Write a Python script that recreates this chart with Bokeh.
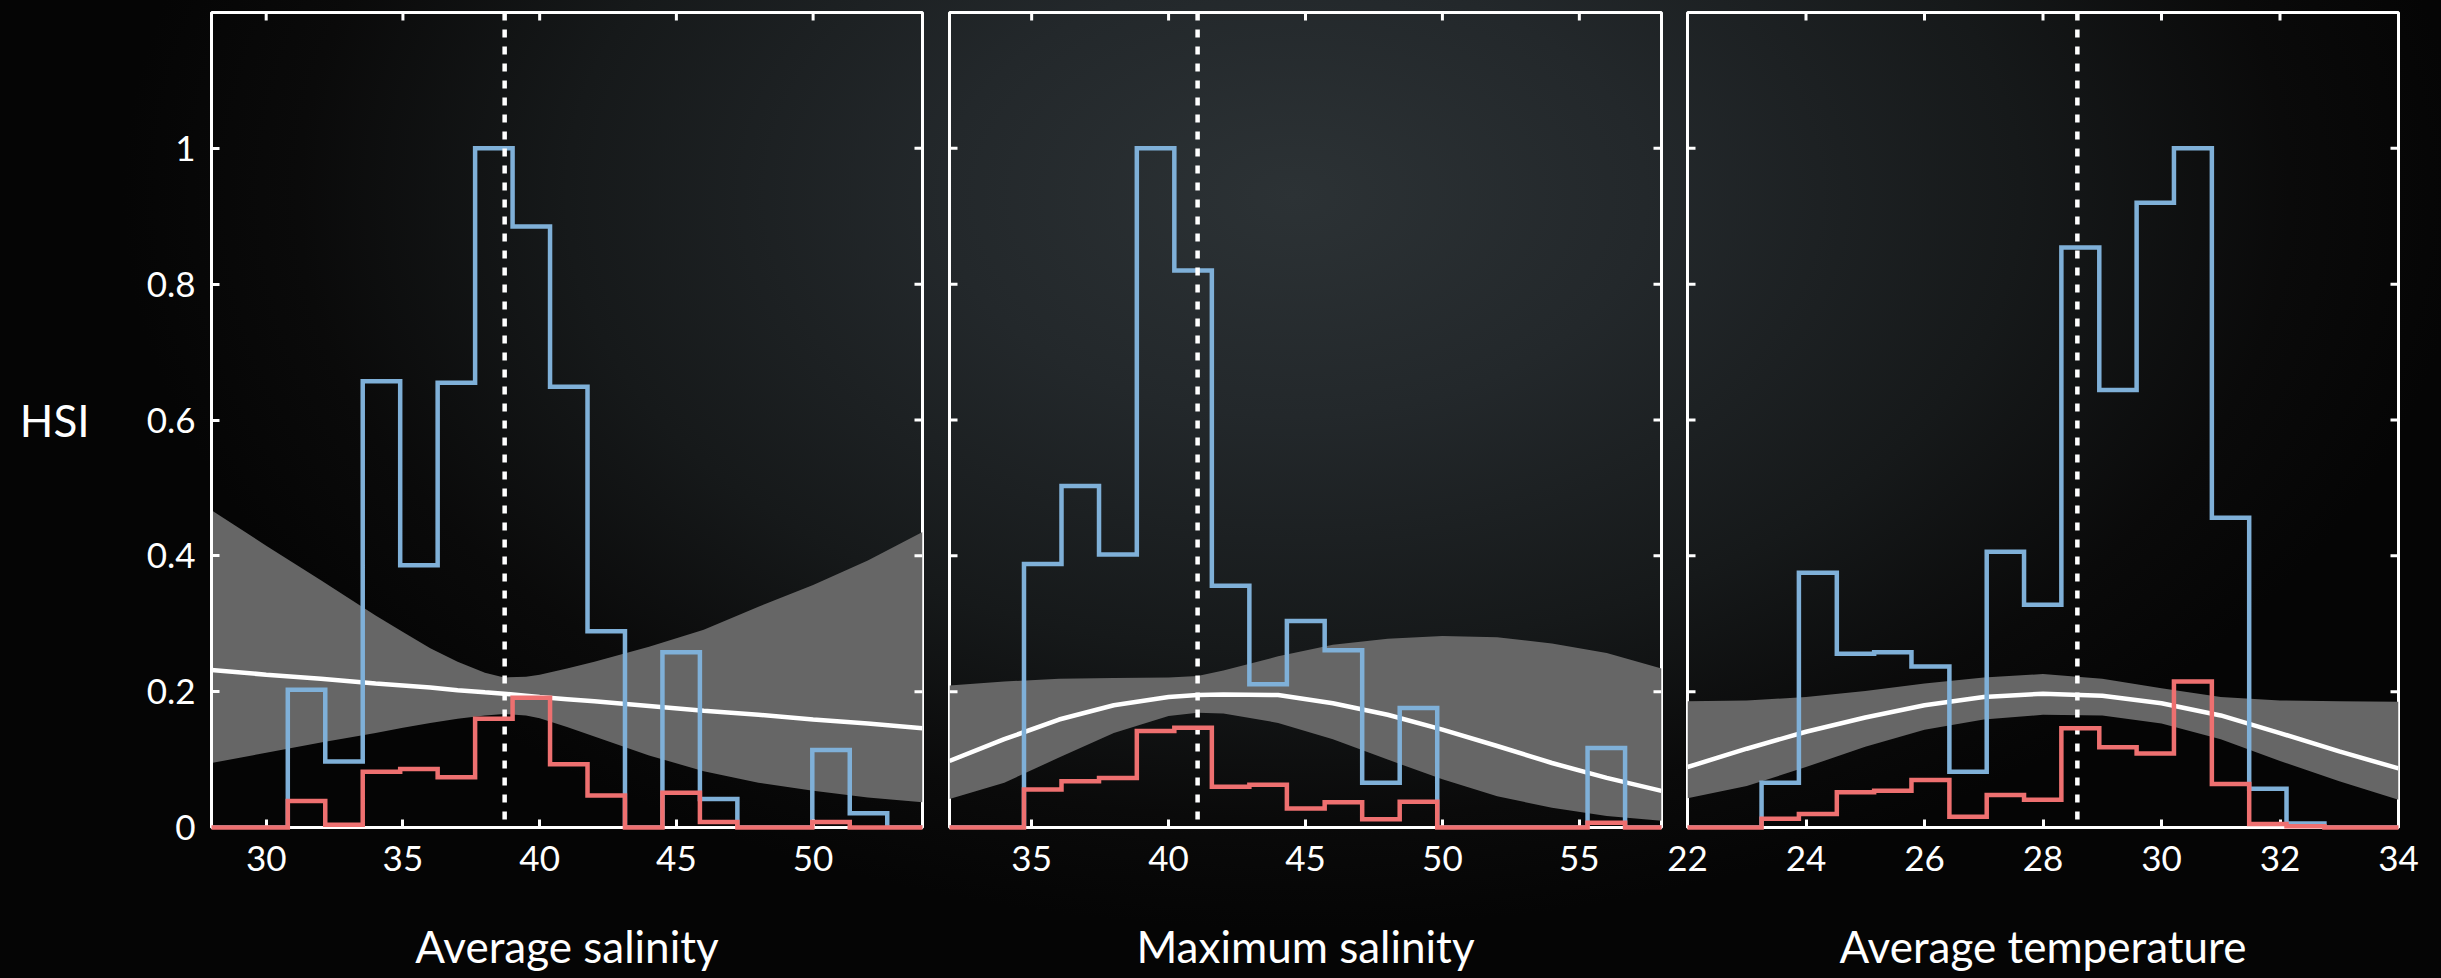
import math
from bokeh.plotting import figure
from bokeh.layouts import row
from bokeh.models import Range1d, FixedTicker, Span, GlobalInlineStyleSheet
from bokeh.embed import file_html
from bokeh.resources import INLINE

# ---------------- data ----------------
y_range = [0, 1.2]
y_ticks = [0, 0.2, 0.4, 0.6, 0.8, 1]
y_tick_labels = ["0", "0.2", "0.4", "0.6", "0.8", "1"]

# Panel 1: Average salinity
p1_title = "Average salinity"
p1_xrange = [28, 54]
p1_xticks = [30, 35, 40, 45, 50]
p1_edges = [30.79, 32.16, 33.53, 34.90, 36.27, 37.64, 39.01, 40.38, 41.75,
            43.12, 44.49, 45.86, 47.23, 48.60, 49.97, 51.34, 52.71]
p1_blue = [0.203, 0.097, 0.657, 0.386, 0.655, 1.0, 0.885, 0.649, 0.289,
           0.0, 0.258, 0.042, 0.0, 0.0, 0.114, 0.021]
p1_red = [0.039, 0.004, 0.082, 0.086, 0.074, 0.160, 0.191, 0.093, 0.047,
          0.0, 0.051, 0.008, 0.0, 0.0, 0.008, 0.0]
p1_mark = 38.72
p1_cx = [28, 30, 32, 34, 35, 36, 37, 38, 38.7, 39.5, 40, 41, 42, 44, 46,
         48, 50, 52, 54]
p1_upper = [0.467, 0.415, 0.364, 0.312, 0.288, 0.264, 0.244, 0.228, 0.221,
            0.222, 0.225, 0.234, 0.244, 0.266, 0.291, 0.325, 0.357, 0.393,
            0.435]
p1_lower = [0.095, 0.110, 0.125, 0.139, 0.147, 0.154, 0.160, 0.165, 0.167,
            0.165, 0.161, 0.148, 0.134, 0.106, 0.083, 0.066, 0.054, 0.044,
            0.037]
p1_fit = [0.232, 0.225, 0.219, 0.212, 0.209, 0.206, 0.202, 0.199, 0.197,
          0.194, 0.192, 0.189, 0.186, 0.179, 0.172, 0.166, 0.159, 0.153,
          0.146]

# Panel 2: Maximum salinity
p2_title = "Maximum salinity"
p2_xrange = [32, 58]
p2_xticks = [35, 40, 45, 50, 55]
p2_edges = [34.72, 36.09, 37.46, 38.84, 40.21, 41.58, 42.95, 44.32, 45.70,
            47.07, 48.44, 49.81, 51.18, 52.56, 53.93, 55.30, 56.67]
p2_blue = [0.388, 0.503, 0.402, 1.0, 0.820, 0.356, 0.211, 0.304, 0.261,
           0.066, 0.176, 0.0, 0.0, 0.0, 0.0, 0.117]
p2_red = [0.056, 0.068, 0.073, 0.142, 0.147, 0.060, 0.063, 0.028, 0.037,
          0.012, 0.038, 0.0, 0.0, 0.0, 0.0, 0.007]
p2_mark = 41.06
p2_cx = [32, 34, 36, 38, 40, 41.06, 42, 44, 46, 48, 50, 52, 54, 56, 58]
p2_upper = [0.209, 0.215, 0.219, 0.220, 0.221, 0.223, 0.231, 0.252, 0.269,
            0.278, 0.282, 0.280, 0.271, 0.257, 0.234]
p2_lower = [0.042, 0.066, 0.103, 0.139, 0.164, 0.169, 0.168, 0.154, 0.130,
            0.100, 0.071, 0.046, 0.029, 0.017, 0.010]
p2_fit = [0.098, 0.130, 0.159, 0.180, 0.192, 0.195, 0.196, 0.195, 0.183,
          0.166, 0.144, 0.120, 0.095, 0.073, 0.054]

# Panel 3: Average temperature
p3_title = "Average temperature"
p3_xrange = [22, 34]
p3_xticks = [22, 24, 26, 28, 30, 32, 34]
p3_edges = [23.25, 23.88, 24.52, 25.15, 25.78, 26.42, 27.05, 27.68, 28.31,
            28.95, 29.58, 30.21, 30.85, 31.48, 32.11, 32.75]
p3_blue = [0.066, 0.375, 0.256, 0.258, 0.237, 0.082, 0.406, 0.328, 0.854,
           0.644, 0.920, 1.0, 0.456, 0.057, 0.006]
p3_red = [0.013, 0.020, 0.052, 0.054, 0.070, 0.016, 0.048, 0.041, 0.146,
          0.118, 0.109, 0.215, 0.064, 0.005, 0.002]
p3_mark = 28.58
p3_cx = [22, 23, 24, 25, 26, 27, 28, 29, 30, 31, 32, 33, 34]
p3_upper = [0.186, 0.187, 0.192, 0.201, 0.212, 0.221, 0.226, 0.219, 0.205,
            0.192, 0.187, 0.186, 0.185]
p3_lower = [0.043, 0.061, 0.089, 0.119, 0.144, 0.159, 0.166, 0.165, 0.153,
            0.130, 0.098, 0.068, 0.041]
p3_fit = [0.089, 0.116, 0.141, 0.162, 0.180, 0.192, 0.197, 0.194, 0.183,
          0.165, 0.139, 0.112, 0.087]

# ---------------- style ----------------
FONT = "Lato"
BLUE = "#7fb0d8"
RED = "#ee7070"
BAND = "#666666"
TICK_FS = "35px"
TITLE_FS = "44px"
TICK_LEN = 8


def step_path(edges, vals, xr):
    xs = [xr[0], edges[0]]
    ys = [0.0, 0.0]
    for i, v in enumerate(vals):
        xs += [edges[i], edges[i + 1]]
        ys += [v, v]
    xs += [edges[-1], edges[-1], xr[1]]
    ys += [vals[-1], 0.0, 0.0]
    return xs, ys


def inner_ticks(p, xr, xticks, left):
    # top ticks (pointing down) and right ticks (pointing left)
    p.ray(x=xticks, y=[y_range[1]] * len(xticks), length=TICK_LEN,
          length_units="screen", angle=-math.pi / 2, line_color="white",
          line_width=3)
    p.ray(x=[xr[1]] * len(y_ticks), y=y_ticks, length=TICK_LEN,
          length_units="screen", angle=math.pi, line_color="white",
          line_width=3)
    if left:
        p.ray(x=[xr[0]] * len(y_ticks), y=y_ticks, length=TICK_LEN,
              length_units="screen", angle=0, line_color="white",
              line_width=3)


def make_panel(title, xr, xticks, edges, blue, red, mark, cx, upper, lower,
               fit, width, bl, br, show_y):
    p = figure(width=width, height=974, output_backend="svg",
               toolbar_location=None, x_range=Range1d(*xr),
               y_range=Range1d(*y_range),
               min_border_left=bl, min_border_right=br,
               min_border_top=12, min_border_bottom=144)
    p.background_fill_alpha = 0
    p.border_fill_alpha = 0
    p.grid.visible = False
    p.outline_line_color = "white"
    p.outline_line_width = 3

    p.varea(x=cx, y1=lower, y2=upper, color=BAND)
    p.line(cx, fit, color="white", line_width=4.5)
    bx, by = step_path(edges, blue, xr)
    p.line(bx, by, color=BLUE, line_width=4.5, line_join="miter")
    rx, ry = step_path(edges, red, xr)
    rr = p.line(rx, ry, color=RED, line_width=4.5, line_join="miter")
    rr.level = "overlay"
    p.add_layout(Span(location=mark, dimension="height", line_color="white",
                      line_width=4.5, line_dash="8 9"))
    inner_ticks(p, xr, xticks, not show_y)

    for ax in (p.xaxis[0], p.yaxis[0]):
        ax.major_tick_in = TICK_LEN
        ax.major_tick_out = 0
        ax.minor_tick_in = 0
        ax.minor_tick_out = 0
        ax.major_tick_line_color = "white"
        ax.major_tick_line_width = 3
        ax.axis_line_color = "white"
        ax.axis_line_width = 3
        ax.major_label_text_color = "white"
        ax.major_label_text_font = FONT
        ax.major_label_text_font_size = TICK_FS
        ax.axis_label_text_color = "white"
        ax.axis_label_text_font = FONT
        ax.axis_label_text_font_size = TITLE_FS
        ax.axis_label_text_font_style = "normal"

    xa = p.xaxis[0]
    xa.ticker = FixedTicker(ticks=xticks)
    xa.major_label_standoff = 18
    xa.axis_label = title
    xa.axis_label_standoff = 46

    ya = p.yaxis[0]
    ya.ticker = FixedTicker(ticks=y_ticks)
    if show_y:
        ya.major_label_overrides = {t: s for t, s in zip(y_ticks, y_tick_labels)}
        ya.major_label_standoff = 16
        ya.axis_label = "HSI"
        ya.axis_label_orientation = "horizontal"
        ya.axis_label_standoff = 54
    else:
        ya.visible = False
    return p


f1 = make_panel(p1_title, p1_xrange, p1_xticks, p1_edges, p1_blue, p1_red,
                p1_mark, p1_cx, p1_upper, p1_lower, p1_fit,
                935, 211, 13, True)
f2 = make_panel(p2_title, p2_xrange, p2_xticks, p2_edges, p2_blue, p2_red,
                p2_mark, p2_cx, p2_upper, p2_lower, p2_fit,
                728, 14, 2, False)
f3 = make_panel(p3_title, p3_xrange, p3_xticks, p3_edges, p3_blue, p3_red,
                p3_mark, p3_cx, p3_upper, p3_lower, p3_fit,
                770, 24, 35, False)

layout = row(f1, f2, f3, spacing=0)
layout.stylesheets = [GlobalInlineStyleSheet(css="""
html { min-height: 100%; background-color: #070707;
  background-image: radial-gradient(ellipse 48% 75% at 53% 20%,
    #2c3235 0%, #23282b 30%, #16191a 62%, #0a0a0a 85%, #050505 100%); }
body { background: transparent; }
""")]

open("out.html", "w").write(file_html(layout, INLINE))
